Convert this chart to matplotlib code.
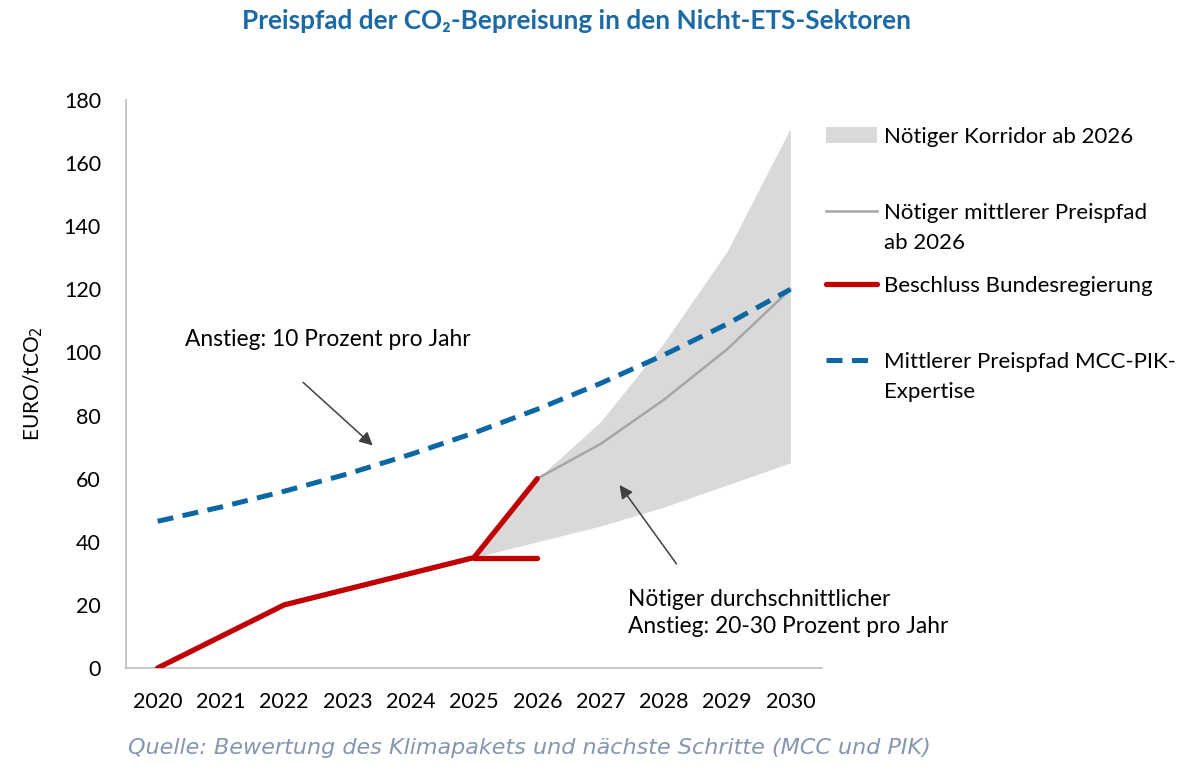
import numpy as np
import matplotlib.pyplot as plt
from matplotlib.lines import Line2D
from matplotlib.patches import Patch

plt.rcParams['font.family'] = ['Lato', 'DejaVu Sans']

years = ['2020', '2021', '2022', '2023', '2024', '2025', '2026', '2027', '2028', '2029', '2030']
mcc_pik = [46.5, 51, 56, 61.5, 67.7, 74.5, 82, 90.2, 99.2, 109, 120]
beschluss = [0, 10, 20, 25, 30, 35, 60]
beschluss_flat = [35, 35]          # 2025 -> 2026 lower branch
korridor_idx = [5, 6, 7, 8, 9, 10]  # 2025..2030
korridor_oben = [35, 60, 78, 103, 132, 171]
korridor_unten = [35, 40, 45, 51, 58, 65]
mittel_idx = [6, 7, 8, 9, 10]
mittel = [60, 71, 85, 101, 120]

c_blue = '#0B67A3'
c_red = '#C00000'
c_fill = '#D9D9D9'
c_gray = '#A6A6A6'

fs = 16

fig = plt.figure(figsize=(11.98, 7.71), dpi=100)
ax = fig.add_axes([126/1198, 1 - 668/771, (822 - 126)/1198, (668 - 100)/771])

x = np.arange(len(years))
ax.fill_between(korridor_idx, korridor_unten, korridor_oben, color=c_fill, lw=0, zorder=1)
ax.plot(mittel_idx, mittel, color=c_gray, lw=1.8, zorder=2)
ax.plot(x[:len(beschluss)], beschluss, color=c_red, lw=3.8, solid_capstyle='round', zorder=3)
ax.plot([5, 6], beschluss_flat, color=c_red, lw=3.8, solid_capstyle='round', zorder=3)
ax.plot(x, mcc_pik, color=c_blue, lw=3.6, dashes=(3.2, 1.9), zorder=4)

ax.set_xlim(-0.5, 10.5)
ax.set_ylim(0, 180)
ax.set_yticks(np.arange(0, 181, 20))
ax.set_xticks(x)
ax.set_xticklabels(years)
ax.tick_params(axis='both', length=0, labelsize=15.5, colors='black')
ax.tick_params(axis='y', pad=18)
ax.tick_params(axis='x', pad=17)
for s in ['top', 'right']:
    ax.spines[s].set_visible(False)
for s in ['left', 'bottom']:
    ax.spines[s].set_color('#BFBFBF')
    ax.spines[s].set_linewidth(1.2)

fig.text(33/1198, 1 - 384/771, 'EURO/tCO$_2$', rotation=90, ha='center', va='center', fontsize=15)

fig.text(576/1198, 1 - 21/771, 'Preispfad der CO\u2082-Bepreisung in den Nicht-ETS-Sektoren',
         ha='center', va='center', fontsize=18.8, fontweight='bold', color='#1B6AA5')

fig.text(128/1198, 1 - 748/771, 'Quelle: Bewertung des Klimapakets und nächste Schritte (MCC und PIK)',
         ha='left', va='center', fontsize=16, style='italic', color='#8496B0', family='DejaVu Sans')

# annotations
ax.annotate('Anstieg: 10 Prozent pro Jahr', xy=(3.4, 70.5), xytext=(0.44, 104),
            fontsize=16.4, ha='left', va='center')
ax.annotate('', xy=(3.4, 70.5), xytext=(2.3, 90.5),
            arrowprops=dict(arrowstyle='-|>', color='#404040', lw=1.1, mutation_scale=20,
                            shrinkA=0, shrinkB=0))
ax.annotate('Nötiger durchschnittlicher\nAnstieg: 20-30 Prozent pro Jahr', xy=(7.3, 58), xytext=(7.44, 17.4),
            fontsize=16.4, ha='left', va='center', linespacing=1.35)
ax.annotate('', xy=(7.3, 58), xytext=(8.2, 33),
            arrowprops=dict(arrowstyle='-|>', color='#404040', lw=1.1, mutation_scale=20,
                            shrinkA=0, shrinkB=0))

# legend entries placed individually (uneven spacing in the original);
# handle sits on the first line, a second line goes below it
entries = [
    (Patch(facecolor=c_fill, edgecolor='none'), 'Nötiger Korridor ab 2026', None, 137),
    (Line2D([], [], color=c_gray, lw=1.8), 'Nötiger mittlerer Preispfad', 'ab 2026', 213),
    (Line2D([], [], color=c_red, lw=3.8, solid_capstyle='round'), 'Beschluss Bundesregierung', None, 286),
    (Line2D([], [], color=c_blue, lw=3.6, dashes=(3.2, 1.9)), 'Mittlerer Preispfad MCC-PIK-', 'Expertise', 362),
]
legs = []
for h, lab, lab2, ypix in entries:
    leg = fig.legend([h], [lab], loc='center left', bbox_to_anchor=(826/1198, 1 - ypix/771),
                     frameon=False, fontsize=fs, handlelength=2.3, handleheight=0.7,
                     handletextpad=0.3, borderpad=0, borderaxespad=0)
    legs.append((leg, lab2, ypix))

fig.canvas.draw()
for leg, lab2, ypix in legs:
    if lab2:
        x0 = leg.get_texts()[0].get_window_extent().x0
        fig.text(x0/1198, 1 - (ypix + 30)/771, lab2, fontsize=fs, ha='left', va='center')

fig.savefig('out.png', dpi=100)
